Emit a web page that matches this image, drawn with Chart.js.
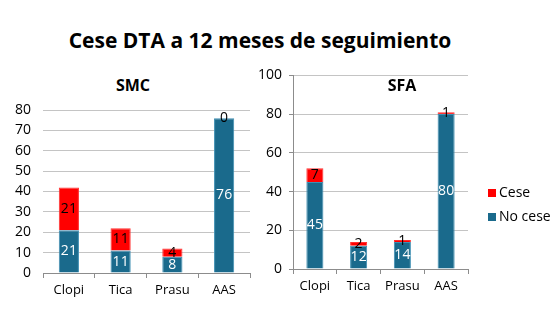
<!DOCTYPE html>
<html>
<head>
<meta charset="utf-8">
<script src="https://cdn.jsdelivr.net/npm/chart.js@4"></script>
<style>
    body { margin: 0; width: 560px; height: 317px; background: #fff; font-family: "Open Sans", sans-serif; position: relative; overflow: hidden; }
    .title { position: absolute; left: 0; width: 520px; top: 26px; text-align: center; font-weight: bold; font-size: 21px; color: #000; }
    .sub { position: absolute; font-weight: bold; font-size: 16px; color: #000; transform: translateX(-50%); }
    .box { position: absolute; top: 60px; height: 257px; }
    .legend { position: absolute; left: 488px; top: 181px; font-size: 14px; color: #000; }
    .legend div { height: 24px; line-height: 22px; }
    .legend span { display: inline-block; width: 8px; height: 8px; margin-right: 3px; }
</style>
</head>
<body>
<div class="title">Cese DTA a 12 meses de seguimiento</div>
<div class="sub" style="left:133px; top:74px;">SMC</div>
<div class="box" style="left:0; width:260px;"><canvas id="smcChart" width="260" height="257"></canvas></div>
<div class="box" style="left:250px; width:310px;"><canvas id="sfaChart" width="310" height="257"></canvas></div>
<div class="sub" style="left:402px; top:74px;">SFA</div>
<div class="legend">
    <div><span style="background:#FF0000"></span>Cese</div>
    <div><span style="background:#1A6A8C"></span>No cese</div>
</div>
<script>
const categories = ["Clopi", "Tica", "Prasu", "AAS"];
const smcNoCese = [21, 11, 8, 76];
const smcCese = [21, 11, 4, 0];
const sfaNoCese = [45, 12, 14, 80];
const sfaCese = [7, 2, 1, 1];

const blue = "#1A6A8C";
const red = "#FF0000";

// value labels in the middle of every segment
const segmentLabels = {
    id: "segmentLabels",
    afterDatasetsDraw(chart) {
        const ctx = chart.ctx;
        ctx.save();
        ctx.font = "14px 'Open Sans'";
        ctx.textAlign = "center";
        ctx.textBaseline = "middle";
        chart.data.datasets.forEach(function (ds, i) {
            chart.getDatasetMeta(i).data.forEach(function (bar, j) {
                ctx.fillStyle = ds.labelColor;
                ctx.fillText(ds.data[j], bar.x, (bar.y + bar.base) / 2);
            });
        });
        ctx.restore();
    }
};

function makeChart(id, noCese, cese, max, step, opts) {
    const el = document.getElementById(id).getContext("2d");
    return new Chart(el, {
        type: "bar",
        data: {
            labels: categories,
            datasets: [
                { label: "No cese", data: noCese, backgroundColor: blue, borderColor: "#3F8FB3", borderWidth: 1, labelColor: "#fff", barPercentage: opts.barPct, categoryPercentage: 1 },
                { label: "Cese", data: cese, backgroundColor: red, borderColor: "#FF3030", borderWidth: 1, labelColor: "#000", barPercentage: opts.barPct, categoryPercentage: 1 }
            ]
        },
        options: {
            responsive: false,
            animation: false,
            layout: { padding: opts.padding },
            plugins: {
                legend: { display: false },
                tooltip: { enabled: false }
            },
            scales: {
                x: {
                    stacked: true,
                    grid: { offset: true, drawOnChartArea: false, color: "#8C8C8C", tickLength: 5 },
                    border: { color: "#8C8C8C" },
                    ticks: { color: "#000", font: { size: 13, family: "Open Sans" }, padding: 4 },
                    afterFit: function (s) { s.height = 30; }
                },
                y: {
                    stacked: true,
                    min: 0,
                    max: max,
                    ticks: { stepSize: step, color: "#000", font: { size: 14, family: "Open Sans" }, padding: opts.yPad },
                    grid: { color: "#C4C4C4", drawTicks: opts.yTicks, tickLength: 4, tickColor: "#8C8C8C" },
                    border: { display: opts.yBorder, color: "#8C8C8C" },
                    afterFit: function (s) { s.width = 43; }
                }
            }
        },
        plugins: [segmentLabels]
    });
}

makeChart("smcChart", smcNoCese, smcCese, 80, 10, {
    padding: { top: 50, left: 0, right: 10, bottom: 14 },
    barPct: 0.39, yPad: 12, yTicks: false, yBorder: false
});
makeChart("sfaChart", sfaNoCese, sfaCese, 100, 20, {
    padding: { top: 15, left: 0, right: 92, bottom: 18 },
    barPct: 0.39, yPad: 7, yTicks: true, yBorder: true
});
</script>
</body>
</html>
